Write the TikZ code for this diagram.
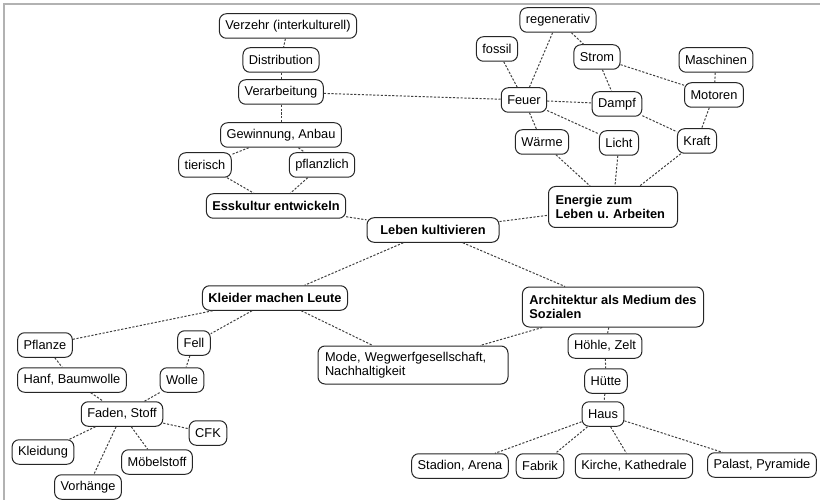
\documentclass[tikz,border=0pt]{standalone}
\usepackage{fontspec}
\setmainfont{Liberation Sans}
\frenchspacing
\begin{document}
\begin{tikzpicture}[x=1pt,y=-1pt,
  concept/.style={draw=black!85, line width=1pt, rounded corners=7pt, fill=white,
    font=\fontsize{12.8}{14.5}\selectfont, inner xsep=6pt, inner ysep=0pt, minimum height=24.5pt},
  bconcept/.style={concept, font=\fontsize{12.8}{14.5}\selectfont\bfseries},
  link/.style={draw=black!75, line width=1pt, dash pattern=on 2.2pt off 1.6pt}]
\useasboundingbox (0,0) rectangle (820,500);
\draw[black!30, line width=1.5pt] (4,500) -- (4,4) -- (820,4);

% food branch
\node[concept] (verzehr) at (288,26) {Verzehr (interkulturell)};
\node[concept] (distr) at (281,60) {Distribution};
\node[concept] (verarb) at (281,92) {Verarbeitung};
\node[concept] (gewinn) at (281,135) {Gewinnung, Anbau};
\node[concept] (tier) at (205,165) {tierisch};
\node[concept] (pflanz) at (322,165) {pflanzlich};
\node[bconcept] (ess) at (276,206) {Esskultur entwickeln};
\node[bconcept, minimum width=132pt] (leben) at (433,230) {Leben kultivieren};

% energy branch
\node[concept] (regen) at (558,20) {regenerativ};
\node[concept] (fossil) at (497,49) {fossil};
\node[concept] (strom) at (597,57) {Strom};
\node[concept] (masch) at (716,60) {Maschinen};
\node[concept] (feuer) at (524,100) {Feuer};
\node[concept] (dampf) at (617,104) {Dampf};
\node[concept] (motor) at (714,95) {Motoren};
\node[concept] (waerme) at (542,142) {Wärme};
\node[concept] (licht) at (619,143) {Licht};
\node[concept] (kraft) at (697,141) {Kraft};
\node[bconcept, align=left, text width=115pt, minimum height=41pt, inner xsep=7pt] (energie) at (613,207) {Energie zum\\Leben u. Arbeiten};

% clothing branch
\node[bconcept] (kleider) at (275,298) {Kleider machen Leute};
\node[concept] (pflanze) at (45,345) {Pflanze};
\node[concept] (fell) at (194,343) {Fell};
\node[concept, align=left, text width=176pt, minimum height=38pt, inner xsep=7pt] (mode) at (413,365) {Mode, Wegwerfgesellschaft,\\Nachhaltigkeit};
\node[concept] (hanf) at (72,380) {Hanf, Baumwolle};
\node[concept] (wolle) at (182,380) {Wolle};
\node[concept] (faden) at (122,414) {Faden, Stoff};
\node[concept] (cfk) at (208,433) {CFK};
\node[concept] (kleidung) at (43,452) {Kleidung};
\node[concept] (moebel) at (157,462) {Möbelstoff};
\node[concept] (vorh) at (88,487) {Vorhänge};

% architecture branch
\node[bconcept, align=left, minimum height=40pt, inner xsep=7pt] (arch) at (613,307) {Architektur als Medium des\\Sozialen};
\node[concept] (hoehle) at (605,346) {Höhle, Zelt};
\node[concept] (huette) at (606,381) {Hütte};
\node[concept] (haus) at (603,414) {Haus};
\node[concept] (stadion) at (460,466) {Stadion, Arena};
\node[concept] (fabrik) at (540,466) {Fabrik};
\node[concept] (kirche) at (634,466) {Kirche, Kathedrale};
\node[concept] (palast) at (762,465) {Palast, Pyramide};

\foreach \a/\b in {verzehr/distr, distr/verarb, verarb/gewinn, verarb/feuer,
  gewinn/tier, gewinn/pflanz, tier/ess, pflanz/ess, ess/leben,
  leben/energie, leben/kleider, leben/arch,
  regen/feuer, regen/strom, fossil/feuer, strom/dampf, strom/motor,
  masch/motor, feuer/dampf, feuer/waerme, feuer/licht, dampf/kraft,
  motor/kraft, waerme/energie, licht/energie, kraft/energie,
  kleider/pflanze, kleider/fell, kleider/mode, arch/mode, arch/hoehle,
  pflanze/hanf, fell/wolle, hanf/faden, wolle/faden, faden/cfk,
  faden/kleidung, faden/vorh, faden/moebel, hoehle/huette, huette/haus,
  haus/stadion, haus/fabrik, haus/kirche, haus/palast}
  \draw[link] (\a) -- (\b);
\end{tikzpicture}
\end{document}
